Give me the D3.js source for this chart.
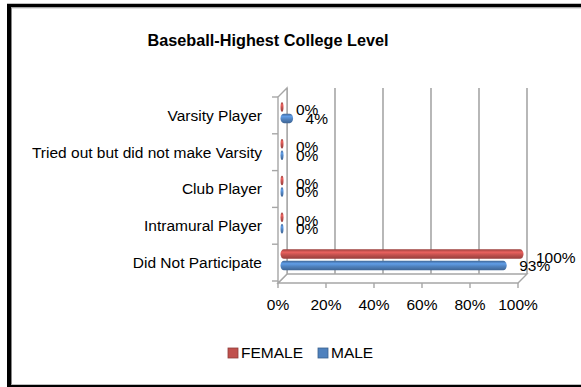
<!DOCTYPE html>
<html>
<head>
<meta charset="utf-8">
<script src="https://cdn.jsdelivr.net/npm/d3@7"></script>
<style>
  html, body { margin: 0; padding: 0; background: #fff; overflow: hidden; }
  svg { display: block; }
  text { font-family: "Liberation Sans", Arial, sans-serif; fill: #000; }
</style>
</head>
<body>
<svg id="chart" width="581" height="387"></svg>
<script>
// Chart data
const categories = [
  "Varsity Player",
  "Tried out but did not make Varsity",
  "Club Player",
  "Intramural Player",
  "Did Not Participate"
];
const femaleValues = [0, 0, 0, 0, 100];
const maleValues = [4, 0, 0, 0, 93];
const seriesNames = ["FEMALE", "MALE"];
const seriesColors = ["#C0504D", "#4F81BD"];
const xTicks = [0, 20, 40, 60, 80, 100];
const chartTitle = "Baseball-Highest College Level";

const svg = d3.select("#chart");
const W = 581, H = 387;

// Frame around the chart (left, top and bottom edges; the right edge runs past the page)
const frame = svg.append("g").attr("stroke", "#000");
frame.append("line").attr("x1", 9).attr("x2", 9).attr("y1", 4).attr("y2", H)
  .attr("stroke-width", 4);
frame.append("line").attr("x1", 7).attr("x2", W).attr("y1", 5.5).attr("y2", 5.5)
  .attr("stroke-width", 3.5);
frame.append("line").attr("x1", 7).attr("x2", W).attr("y1", 386).attr("y2", 386)
  .attr("stroke-width", 2.5);
svg.append("line").attr("x1", 11.5).attr("x2", 11.5).attr("y1", 7.5).attr("y2", 384.5)
  .attr("stroke", "#888").attr("stroke-width", 1);
svg.append("line").attr("x1", 11).attr("x2", W).attr("y1", 7.8).attr("y2", 7.8)
  .attr("stroke", "#999").attr("stroke-width", 1);

// Title
svg.append("text").attr("x", 268).attr("y", 46).attr("text-anchor", "middle")
  .attr("font-size", 16.5).attr("font-weight", "bold")
  .attr("textLength", 241).attr("lengthAdjust", "spacingAndGlyphs")
  .text(chartTitle);

// Plot geometry (front plane) and depth offsets for the 3D look
const front = { left: 278, right: 518, top: 97, bottom: 283 };
const depth = { dx: 9, dy: -9 };
const mid = { dx: 4, dy: -3 };

const x = d3.scaleLinear().domain([0, 100]).range([front.left, front.right]);
const y = d3.scaleBand().domain(categories).range([front.top, front.bottom - 2]);

const wallColor = "#A6A6A6";

// Back wall gridlines
xTicks.forEach(t => {
  svg.append("line")
    .attr("x1", x(t) + depth.dx).attr("x2", x(t) + depth.dx)
    .attr("y1", front.top + depth.dy).attr("y2", front.bottom + depth.dy)
    .attr("stroke", wallColor).attr("stroke-width", 1.6);
});

// Floor
const floor = [
  [front.left, front.bottom],
  [front.right, front.bottom],
  [front.right + depth.dx, front.bottom + depth.dy],
  [front.left + depth.dx, front.bottom + depth.dy]
];
svg.append("path").attr("d", d3.line()(floor) + "Z")
  .attr("fill", "#fff").attr("stroke", wallColor).attr("stroke-width", 1.4);

// Left side wall
const wall = [
  [front.left, front.bottom],
  [front.left, front.top],
  [front.left + depth.dx, front.top + depth.dy],
  [front.left + depth.dx, front.bottom + depth.dy]
];
svg.append("path").attr("d", d3.line()(wall) + "Z")
  .attr("fill", "#fff").attr("stroke", wallColor).attr("stroke-width", 1.4);

// X axis ticks and labels
const xAxis = svg.append("g");
xTicks.forEach(t => {
  xAxis.append("line").attr("x1", x(t)).attr("x2", x(t))
    .attr("y1", front.bottom).attr("y2", front.bottom + 5)
    .attr("stroke", wallColor).attr("stroke-width", 1.4);
  xAxis.append("text").attr("x", x(t)).attr("y", 305).attr("dy", "0.35em")
    .attr("text-anchor", "middle").attr("font-size", 15.5).text(t + "%");
});

// Y axis tick marks between categories and labels
const catEdges = categories.map(c => y(c)).concat([y(categories[categories.length - 1]) + y.bandwidth()]);
catEdges.forEach(v => {
  svg.append("line").attr("x1", front.left - 6).attr("x2", front.left)
    .attr("y1", v).attr("y2", v).attr("stroke", wallColor).attr("stroke-width", 1.4);
});
categories.forEach(c => {
  svg.append("text").attr("x", 262).attr("y", y(c) + y.bandwidth() / 2).attr("dy", "0.35em")
    .attr("text-anchor", "end").attr("font-size", 15.5).text(c);
});

// Cylinder shading gradients
const defs = svg.append("defs");
function cylGradient(id, color) {
  const c = d3.color(color);
  const g = defs.append("linearGradient").attr("id", id)
    .attr("x1", 0).attr("y1", 0).attr("x2", 0).attr("y2", 1);
  g.append("stop").attr("offset", "0%").attr("stop-color", c.darker(0.6));
  g.append("stop").attr("offset", "30%").attr("stop-color", c.brighter(0.55));
  g.append("stop").attr("offset", "60%").attr("stop-color", c);
  g.append("stop").attr("offset", "100%").attr("stop-color", c.darker(0.7));
}
cylGradient("gFemale", seriesColors[0]);
cylGradient("gMale", seriesColors[1]);

// Bars with value labels
const barH = 9.5;
const series = [
  { name: seriesNames[0], values: femaleValues, grad: "url(#gFemale)", off: -8.5, labelOff: 3 },
  { name: seriesNames[1], values: maleValues, grad: "url(#gMale)", off: 3, labelOff: 0 }
];
series.forEach(s => {
  const g = svg.append("g");
  categories.forEach((c, i) => {
    const v = s.values[i];
    const cy = y(c) + y.bandwidth() / 2 + s.off;
    const x0 = x(0) + mid.dx - 1.5;
    const x1 = x(v) + mid.dx + 1.5;
    g.append("rect")
      .attr("x", x0).attr("y", cy - barH / 2)
      .attr("width", Math.max(3, x1 - x0)).attr("height", barH)
      .attr("rx", 3.5).attr("ry", barH / 2)
      .attr("fill", s.grad);
    g.append("text")
      .attr("x", x(v) + mid.dx + 14).attr("y", cy + s.labelOff).attr("dy", "0.35em")
      .attr("font-size", 15.5).text(v + "%");
  });
});

// Legend
const legend = svg.append("g");
const legendItems = [
  { name: seriesNames[0], color: seriesColors[0], x: 228 },
  { name: seriesNames[1], color: seriesColors[1], x: 318 }
];
legendItems.forEach(d => {
  legend.append("rect").attr("x", d.x).attr("y", 348).attr("width", 10).attr("height", 10)
    .attr("fill", d.color).attr("stroke", d3.color(d.color).darker(0.8)).attr("stroke-width", 0.8);
  legend.append("text").attr("x", d.x + 13).attr("y", 353).attr("dy", "0.35em")
    .attr("font-size", 15.5).text(d.name);
});
</script>
</body>
</html>
